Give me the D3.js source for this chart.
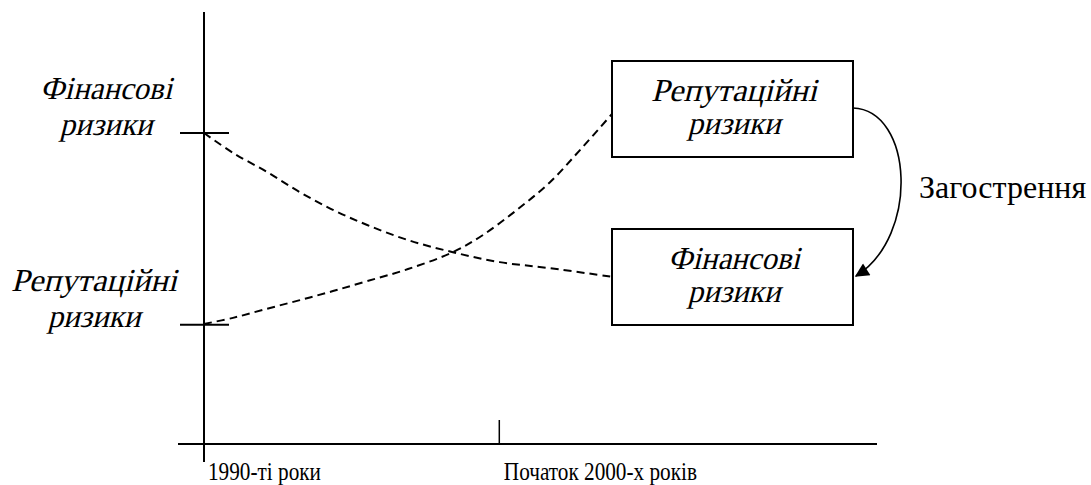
<!DOCTYPE html>
<html lang="uk">
  <head>
    <meta charset="UTF-8" />
    <title>Ризики</title>
    <script src="https://d3js.org/d3.v7.min.js"></script>
    <style>
      body { margin: 0; background: #fff; }
    </style>
  </head>
  <body>
    <svg width="1091" height="485"></svg>
    <script>
      // дані
      var periods = ["1990-ті роки", "Початок 2000-х років"];
      var periodPos = [0, 0.725];
      var levelLabels = [["Фінансові", "ризики"], ["Репутаційні", "ризики"]];
      var levelValues = [72, 27.6];
      // фінансові ризики: час / рівень
      var finT = [0, 0.071, 0.154, 0.235, 0.316, 0.4, 0.5, 0.61, 0.725, 0.848, 1];
      var finV = [72, 67.4, 63, 58.3, 54.2, 50.7, 47.2, 44.4, 42.1, 40.7, 38.7];
      // репутаційні ризики
      var repT = [0, 0.071, 0.154, 0.235, 0.316, 0.4, 0.5, 0.61, 0.684, 0.767, 0.848, 0.922, 1];
      var repV = [27.8, 29.2, 31.3, 33.3, 35.4, 37.7, 40.5, 44.4, 48.4, 54.2, 60.6, 68.1, 76.4];
      var boxLabels = [["Репутаційні", "ризики"], ["Фінансові", "ризики"]];
      var arrowLabel = "Загострення";

      var serif = '"Liberation Serif", "DejaVu Serif", "Times New Roman", serif';
      var wordWidth = { "Репутаційні": 166, "Фінансові": 132, "ризики": 93 };
      var svg = d3.select("svg");

      var x = d3.scaleLinear().domain([0, 1]).range([204, 612]);
      var y = d3.scaleLinear().domain([0, 100]).range([444, 12]);

      // курсив імітуємо нахилом
      function label(cx, py, s, size) {
        return svg.append("text")
          .attr("x", cx).attr("y", py)
          .attr("text-anchor", "middle")
          .attr("textLength", wordWidth[s])
          .attr("lengthAdjust", "spacingAndGlyphs")
          .attr("transform", `translate(${py * 0.249},0) skewX(-14)`)
          .style("font-family", serif)
          .style("font-size", size + "px")
          .attr("fill", "#000")
          .text(s);
      }

      // осі
      svg.append("line")
        .attr("x1", x(0)).attr("x2", x(0))
        .attr("y1", y(100)).attr("y2", 462)
        .attr("stroke", "#000").attr("stroke-width", 2);
      svg.append("line")
        .attr("x1", 178).attr("x2", 877)
        .attr("y1", y(0)).attr("y2", y(0))
        .attr("stroke", "#000").attr("stroke-width", 2);

      svg.selectAll(".xtick")
        .data(periodPos.slice(1))
        .enter().append("line")
        .attr("x1", d => x(d) - 0.5).attr("x2", d => x(d) - 0.5)
        .attr("y1", y(0) - 24).attr("y2", y(0))
        .attr("stroke", "#000").attr("stroke-width", 1.5);

      svg.selectAll(".xlab")
        .data(periods)
        .enter().append("text")
        .attr("transform", (d, i) => `translate(${x(periodPos[i]) + 4},480) scale(0.85,1)`)
        .style("font-family", serif)
        .style("font-size", "25px")
        .text(d => d);

      svg.selectAll(".ytick")
        .data(levelValues)
        .enter().append("line")
        .attr("x1", 180).attr("x2", 229)
        .attr("y1", d => y(d)).attr("y2", d => y(d))
        .attr("stroke", "#000").attr("stroke-width", 2);

      var labCx = [106, 94];
      levelLabels.forEach(function (lines, i) {
        lines.forEach(function (s, j) {
          label(labCx[i], y(levelValues[i]) - 34 + j * 36, s, 32);
        });
      });

      var line = d3.line().curve(d3.curveCatmullRom);

      [[finT, finV], [repT, repV]].forEach(function (s) {
        var pts = s[0].map((t, i) => [x(t), y(s[1][i])]);
        svg.append("path")
          .attr("d", line(pts))
          .attr("fill", "none")
          .attr("stroke", "#000")
          .attr("stroke-width", 2)
          .attr("stroke-dasharray", "8,5");
      });

      // блоки
      var boxes = [{ top: 61, bottom: 157 }, { top: 229, bottom: 325 }];
      boxes.forEach(function (b, i) {
        svg.append("rect")
          .attr("x", x(1)).attr("y", b.top)
          .attr("width", 241).attr("height", b.bottom - b.top)
          .attr("fill", "#fff")
          .attr("stroke", "#000").attr("stroke-width", 2);
        boxLabels[i].forEach(function (s, j) {
          label(x(1) + 122, b.top + 40 + j * 33, s, 32);
        });
      });

      // стрілка
      svg.append("defs").append("marker")
        .attr("id", "arr")
        .attr("viewBox", "0 0 10 10")
        .attr("refX", 9).attr("refY", 5)
        .attr("markerWidth", 16).attr("markerHeight", 14)
        .attr("markerUnits", "userSpaceOnUse")
        .attr("orient", "auto")
        .append("path").attr("d", "M0,0 L10,5 L0,10 z");

      svg.append("path")
        .attr("d", "M853,108 C913,110 920,236 856,276")
        .attr("fill", "none")
        .attr("stroke", "#000").attr("stroke-width", 1.6)
        .attr("marker-end", "url(#arr)");

      svg.append("text")
        .attr("x", 919).attr("y", 198)
        .style("font-family", serif)
        .style("font-size", "32px")
        .text(arrowLabel);
    </script>
  </body>
</html>
